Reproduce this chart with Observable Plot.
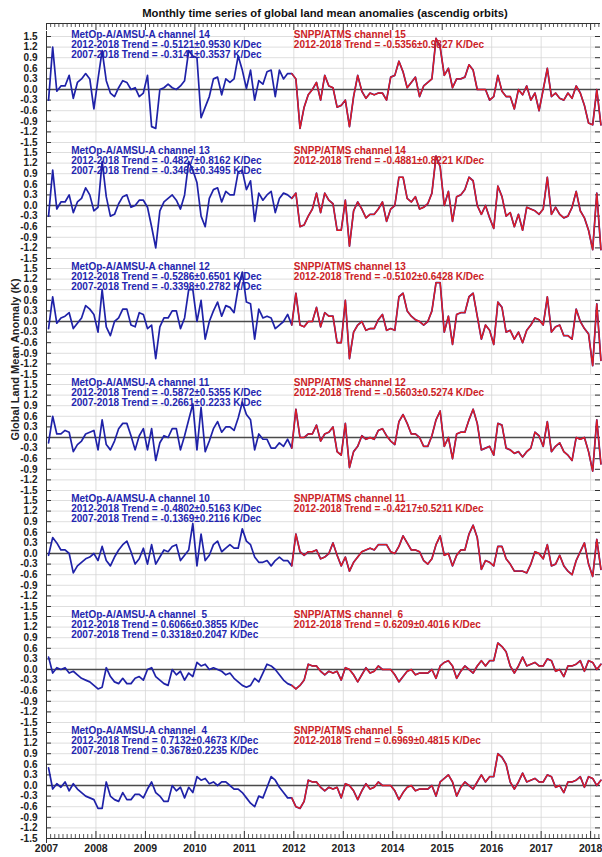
<!DOCTYPE html>
<html>
<head>
<meta charset="utf-8">
<script src="https://cdn.jsdelivr.net/npm/d3@7"></script>
<script src="https://cdn.jsdelivr.net/npm/@observablehq/plot@0.6"></script>
<style>
  body { margin: 0; background: #fff; font-family: Arial, "Liberation Sans", sans-serif; }
  #title { box-sizing: border-box; height: 23px; padding-top: 5px; line-height: 16px; margin-left: 48px;
           text-align: center; font-weight: bold; font-size: 11.25px; color: #111; white-space: nowrap; }
  svg text { white-space: pre; }
</style>
</head>
<body>
<div id="title">Monthly time series of global land mean anomalies (ascendig orbits)</div>
<div id="chart"></div>
<script>
// ---------- tick labels / categories ----------
const YEARS = [2007, 2008, 2009, 2010, 2011, 2012, 2013, 2014, 2015, 2016, 2017, 2018];
const Y_TICKS = [-1.5, -1.2, -0.9, -0.6, -0.3, 0, 0.3, 0.6, 0.9, 1.2, 1.5];
const Y_LABEL = "Global Land Mean Anomaly (K)";

const metopChannels = [14, 13, 12, 11, 10, 5, 4];
const snppChannels  = [15, 14, 13, 12, 11, 6, 5];
const metopTrend2012 = ["-0.5121±0.9530", "-0.4827±0.8162", "-0.5286±0.6501", "-0.5872±0.5355", "-0.4802±0.5163", "0.6066±0.3855", "0.7132±0.4673"];
const metopTrend2007 = ["-0.3141±0.3537", "-0.3466±0.3495", "-0.3398±0.2782", "-0.2661±0.2233", "-0.1369±0.2116", "0.3318±0.2047", "0.3678±0.2235"];
const snppTrend2012  = ["-0.5356±0.9827", "-0.4881±0.8221", "-0.5102±0.6428", "-0.5603±0.5274", "-0.4217±0.5211", "0.6209±0.4016", "0.6969±0.4815"];

// ---------- MetOp-A AMSU-A monthly anomalies, Jan 2007 .. Dec 2011 ----------
const amsuA14 = [-0.3, 1.2, -0.05, 0.1, 0.1, 0.4, -0.25, 0.2, 0.3, 0.45, 0.3, -0.55, 0.3, 1.1, 0.25, -0.1, -0.2, 0.05, 0.25, 0.2, 0.0, 0.05, -0.2, -0.1, 0.4, -1.05, -1.1, 0.0, 0.05, 0.15, 0.05, 0.0, 0.1, 0.25, 1.1, 0.95, 0.9, -0.8, -0.5, -0.2, 0.3, 0.35, -0.15, 0.3, 0.2, 0.3, 0.95, 0.55, 0.03, 0.55, -0.3, 0.25, 0.15, 0.5, 0.55, -0.2, 0.55, 0.3, 0.45, 0.45];
const amsuA13 = [-0.3, 1.0, -0.1, 0.1, 0.1, 0.3, -0.2, 0.1, 0.2, 0.5, 0.3, -0.15, -0.05, 1.25, 0.25, -0.3, -0.25, 0.05, 0.25, 0.3, -0.05, 0.0, 0.15, 0.15, -0.05, -0.6, -1.2, -0.15, 0.1, 0.2, 0.3, 0.15, -0.1, 0.3, 1.25, 1.0, 0.65, -0.3, -0.6, 0.2, 0.45, 0.5, 0.1, 0.4, 0.3, 0.3, 0.95, 1.0, 0.45, 0.7, -0.45, 0.35, 0.15, 0.3, 0.4, -0.2, 0.2, 0.35, 0.3, 0.2];
const amsuA12 = [-0.2, 0.7, -0.05, 0.1, 0.15, 0.25, -0.2, -0.05, 0.1, 0.45, 0.35, 0.2, -0.3, 0.9, -0.15, -0.4, 0.0, 0.1, 0.35, 0.35, -0.1, -0.15, 0.25, 0.2, -0.2, -0.1, -1.05, -0.15, 0.1, 0.1, 0.3, 0.3, -0.2, 0.1, 0.9, 0.9, 0.0, 0.6, -0.5, 0.0, 0.3, 0.55, 0.15, 0.45, 0.4, 0.25, 0.95, 1.4, 0.55, 0.5, -0.5, 0.35, 0.1, 0.15, 0.1, -0.2, -0.1, 0.0, 0.2, -0.1];
const amsuA11 = [-0.15, 0.6, 0.1, 0.1, 0.2, 0.15, -0.4, -0.2, -0.1, 0.1, 0.15, 0.2, -0.35, 0.5, -0.2, -0.35, -0.1, 0.25, 0.4, 0.4, 0.05, -0.35, 0.05, 0.25, -0.35, 0.25, -0.65, -0.15, 0.05, 0.0, 0.25, 0.25, -0.35, 0.05, 0.5, 0.95, -0.35, 0.85, -0.4, -0.1, 0.25, 0.45, 0.15, 0.3, 0.3, 0.2, 0.55, 1.0, 0.65, 0.5, -0.35, 0.1, -0.05, -0.05, -0.3, -0.3, -0.15, -0.25, -0.05, -0.3];
const amsuA10 = [-0.05, 0.45, 0.3, 0.1, 0.1, 0.0, -0.55, -0.35, -0.25, -0.15, -0.1, 0.0, -0.2, 0.2, -0.2, -0.35, -0.1, 0.1, 0.25, 0.35, 0.05, -0.3, -0.15, 0.15, -0.3, 0.25, -0.3, -0.1, 0.1, 0.05, 0.2, 0.25, -0.2, -0.05, 0.1, 0.85, -0.35, 0.55, -0.2, -0.05, 0.25, 0.35, 0.05, 0.15, 0.25, 0.15, 0.15, 0.7, 0.35, 0.25, -0.1, -0.25, -0.25, -0.2, -0.35, -0.2, -0.1, -0.2, -0.2, -0.35];
const amsuA5  = [0.35, -0.1, 0.05, 0.0, 0.05, -0.1, -0.05, -0.15, -0.25, -0.3, -0.35, -0.45, -0.55, -0.5, 0.05, -0.2, -0.35, -0.4, -0.25, -0.4, -0.4, -0.25, -0.2, -0.3, 0.0, 0.05, -0.2, -0.3, -0.4, -0.45, 0.0, -0.15, -0.05, -0.3, -0.1, -0.2, 0.2, 0.1, 0.15, 0.0, 0.05, 0.0, -0.05, -0.15, -0.1, -0.25, -0.35, -0.45, -0.5, -0.45, -0.25, -0.35, -0.1, 0.15, 0.1, 0.0, -0.15, -0.3, -0.4, -0.45];
const amsuA4  = [0.5, -0.1, 0.05, -0.05, 0.1, -0.15, 0.05, -0.1, -0.2, -0.3, -0.35, -0.4, -0.65, -0.65, 0.1, -0.3, -0.4, -0.45, -0.2, -0.4, -0.4, -0.25, -0.25, -0.35, -0.1, 0.1, -0.2, -0.3, -0.45, -0.45, 0.0, -0.15, -0.05, -0.35, -0.05, -0.2, 0.25, 0.15, 0.2, 0.05, 0.1, 0.0, 0.1, 0.1, 0.0, -0.1, -0.1, -0.2, -0.35, -0.5, -0.6, -0.3, -0.35, -0.05, 0.25, 0.15, -0.05, -0.2, -0.35, -0.35];

// ---------- SNPP ATMS monthly anomalies, Dec 2011 .. Mar 2018 (MetOp-A overlaps them) ----------
const atms15 = [0.45, 0.3, -1.1, -0.5, -0.15, 0.0, 0.2, -0.3, 0.4, 0.1, 0.05, -0.5, -0.45, -0.3, -1.05, -0.2, 0.4, -0.05, -0.25, -0.1, -0.15, -0.1, -0.1, -0.3, 0.35, 0.4, 0.8, 0.5, 0.05, 0.2, 0.35, -0.2, 0.1, 0.2, 0.3, 1.45, 1.2, 0.4, 0.6, 0.05, 0.3, 0.3, 0.35, 0.7, 0.55, 0.0, 0.0, 0.0, -0.3, -0.2, 0.4, -0.05, -0.2, -0.2, -0.55, 0.0, -0.15, 0.1, -0.3, -0.1, -0.6, 0.0, 0.6, -0.2, -0.1, -0.25, -0.3, -0.1, -0.25, 0.1, -0.1, -0.45, -0.95, -1.0, 0.0, -1.0];
const atms14 = [0.2, 0.35, -0.6, -0.55, -0.3, -0.1, 0.35, -0.2, 0.35, 0.15, 0.05, -0.7, -0.7, 0.15, -1.15, -0.15, 0.1, -0.1, -0.35, -0.25, -0.25, -0.1, 0.1, -0.45, -0.1, 0.0, 0.8, 0.8, 0.2, 0.1, 0.25, -0.1, -0.05, 0.05, 0.35, 1.4, 1.1, 0.0, 0.4, -0.45, 0.25, 0.3, 0.45, 0.8, 0.7, 0.0, -0.25, 0.0, -0.35, -0.65, 0.55, 0.25, -0.3, -0.2, -0.6, -0.25, -0.7, -0.05, -0.1, -0.15, -0.25, -0.1, 0.8, -0.25, -0.05, -0.25, -0.35, -0.3, -0.05, 0.4, -0.15, -0.35, -0.7, -1.25, 0.35, -1.25];
const atms13 = [-0.1, 0.8, -0.1, -0.15, 0.0, 0.0, 0.4, -0.15, 0.25, 0.15, 0.15, -0.6, -0.6, 0.6, -1.05, -0.3, -0.1, 0.0, -0.25, -0.2, -0.2, 0.05, 0.2, -0.25, -0.2, -0.25, 0.7, 0.8, 0.3, 0.15, 0.05, 0.0, -0.1, 0.0, 0.3, 1.1, 1.1, -0.3, 0.15, -0.65, 0.2, 0.25, 0.25, 0.7, 0.8, 0.15, -0.5, -0.1, -0.25, -0.65, 0.55, 0.4, -0.3, -0.25, -0.5, -0.3, -0.6, -0.25, -0.1, 0.1, 0.05, -0.1, 0.7, -0.3, -0.15, -0.1, -0.4, -0.4, -0.5, 0.35, 0.0, -0.2, -0.35, -1.25, 0.5, -1.1];
const atms12 = [-0.3, 0.8, 0.0, 0.0, 0.1, 0.1, 0.35, -0.1, 0.1, 0.15, 0.3, -0.4, -0.5, 0.4, -0.85, -0.4, -0.25, 0.05, -0.05, 0.0, -0.05, 0.2, 0.25, 0.05, -0.1, -0.2, 0.45, 0.65, 0.4, 0.1, 0.1, 0.0, -0.25, -0.25, 0.05, 0.5, 0.75, -0.25, 0.0, -0.6, 0.1, 0.15, 0.15, 0.5, 0.8, 0.4, -0.35, -0.3, -0.25, -0.5, 0.4, 0.35, -0.3, -0.35, -0.45, -0.4, -0.55, -0.4, -0.3, 0.15, 0.05, -0.25, 0.45, -0.4, -0.25, -0.15, -0.4, -0.5, -0.65, 0.0, -0.05, 0.0, -0.4, -0.95, 0.5, -0.75];
const atms11 = [-0.35, 0.55, 0.05, -0.05, 0.05, 0.05, 0.1, -0.15, -0.1, 0.0, 0.3, -0.05, -0.35, -0.1, -0.5, -0.25, -0.1, 0.05, 0.1, 0.15, 0.1, 0.25, 0.25, 0.25, 0.05, 0.0, 0.2, 0.5, 0.3, 0.1, 0.1, 0.05, -0.2, -0.3, -0.15, 0.25, 0.5, -0.05, 0.0, -0.35, -0.05, 0.1, 0.1, 0.55, 0.8, 0.45, -0.45, -0.2, -0.25, -0.35, 0.2, 0.2, -0.15, -0.3, -0.5, -0.5, -0.5, -0.55, -0.3, 0.05, 0.0, -0.15, 0.25, -0.35, -0.3, -0.05, -0.35, -0.5, -0.6, -0.2, 0.05, 0.3, -0.3, -0.65, 0.4, -0.45];
const atms6  = [-0.45, -0.55, -0.45, -0.3, 0.15, 0.1, 0.1, -0.05, -0.15, -0.05, -0.1, -0.05, -0.3, 0.05, 0.0, -0.15, -0.35, -0.15, 0.05, -0.1, -0.05, 0.1, 0.0, 0.0, 0.0, -0.15, -0.35, -0.2, -0.05, 0.0, -0.15, -0.1, -0.1, -0.1, 0.0, -0.25, 0.1, 0.2, 0.25, 0.1, -0.25, -0.05, 0.1, 0.0, -0.1, 0.1, 0.25, 0.1, 0.25, 0.25, 0.75, 0.65, 0.5, 0.1, -0.1, 0.1, 0.35, 0.1, 0.15, 0.2, 0.1, 0.1, 0.3, 0.25, -0.05, 0.0, -0.2, 0.1, 0.1, 0.15, 0.25, -0.05, 0.25, 0.2, 0.0, 0.15];
const atms5  = [-0.35, -0.6, -0.65, -0.45, 0.15, 0.1, 0.1, -0.05, -0.15, -0.05, -0.1, -0.05, -0.35, 0.05, 0.0, -0.15, -0.4, -0.15, 0.05, -0.1, -0.05, 0.1, 0.0, 0.0, 0.0, -0.15, -0.4, -0.2, -0.05, 0.0, -0.15, -0.1, -0.1, -0.1, 0.0, -0.3, 0.1, 0.2, 0.3, 0.1, -0.3, -0.05, 0.1, 0.0, -0.1, 0.1, 0.3, 0.1, 0.25, 0.25, 0.9, 0.8, 0.6, 0.1, -0.1, 0.1, 0.35, 0.1, 0.15, 0.2, 0.1, 0.1, 0.3, 0.25, -0.05, 0.0, -0.2, 0.1, 0.1, 0.15, 0.25, -0.05, 0.25, 0.2, 0.0, 0.15];

const metopSeries = [amsuA14, amsuA13, amsuA12, amsuA11, amsuA10, amsuA5, amsuA4];
const snppSeries  = [atms15, atms14, atms13, atms12, atms11, atms6, atms5];

// ---------- build tables ----------
const SNPP_START = 59;                       // index of Dec 2011
const monthTime = m => 2007 + (m + 0.5) / 12;
const PANELS = d3.range(metopSeries.length);
const LAST = PANELS.length - 1;

const blueRows = [], redRows = [];
PANELS.forEach(p => {
  metopSeries[p].forEach((v, m) => blueRows.push({panel: p, t: monthTime(m), v}));
  snppSeries[p].slice(1).forEach((v, k) => blueRows.push({panel: p, t: monthTime(SNPP_START + 1 + k), v}));
  snppSeries[p].forEach((v, k) => redRows.push({panel: p, t: monthTime(SNPP_START + k), v}));
});

const fmtCh = c => String(c).padStart(2, " ");
const blueText = PANELS.map(p => ({panel: p, text:
  `MetOp-A/AMSU-A channel ${fmtCh(metopChannels[p])}\n2012-2018 Trend = ${metopTrend2012[p]} K/Dec\n2007-2018 Trend = ${metopTrend2007[p]} K/Dec`}));
const redText = PANELS.map(p => ({panel: p, text:
  `SNPP/ATMS channel ${fmtCh(snppChannels[p])}\n2012-2018 Trend = ${snppTrend2012[p]} K/Dec`}));

const X_DOMAIN = [2007, 2018.2];
const minorMonths = d3.range(1, 135).filter(m => m % 12 !== 0).map(m => 2007 + m / 12);

const BLUE = "#1f22a8", RED = "#e01c22";
const AXIS = "#333";
const GRID = "#d6d6d6";

const chart = Plot.plot({
  width: 602, height: 834,
  marginLeft: 46, marginRight: 2, marginTop: 13, marginBottom: 19,
  style: {fontFamily: "Arial, 'Liberation Sans', sans-serif", fontSize: "10px", fontWeight: "bold", color: "#1a1a1a", background: "white", overflow: "visible"},
  x: {domain: X_DOMAIN},
  y: {domain: [-1.5, 1.5]},
  fy: {domain: PANELS, paddingInner: 10 / 116, paddingOuter: 0, round: false, axis: null},
  marks: [
    Plot.gridY(Y_TICKS, {stroke: GRID, strokeOpacity: 1, strokeWidth: 0.8}),
    Plot.gridX(YEARS, {stroke: GRID, strokeOpacity: 1, strokeWidth: 0.8}),
    Plot.ruleY([0], {stroke: "#4a4a4a", strokeWidth: 1.3}),
    Plot.ruleX([X_DOMAIN[0]], {stroke: AXIS, insetTop: -5, insetBottom: -5}),
    Plot.tickY(Y_TICKS, {y: d => d, insetRight: 549, stroke: AXIS}),
    Plot.tickY(Y_TICKS, {y: d => d, insetLeft: 549, stroke: AXIS}),
    // top frame of the first panel
    Plot.ruleY([1.5], {fy: () => 0, dy: -13, stroke: AXIS}),
    Plot.tickX(minorMonths, {x: d => d, fy: () => 0, insetBottom: 102, dy: -13, stroke: AXIS, strokeWidth: 0.8}),
    Plot.tickX(YEARS, {x: d => d, fy: () => 0, insetBottom: 99, dy: -13, stroke: AXIS}),
    // bottom frame of the last panel
    Plot.ruleY([-1.5], {fy: () => LAST, stroke: AXIS}),
    Plot.tickX(minorMonths, {x: d => d, fy: () => LAST, insetTop: 102, stroke: AXIS, strokeWidth: 0.8}),
    Plot.tickX(YEARS, {x: d => d, fy: () => LAST, insetTop: 99, stroke: AXIS}),
    Plot.axisY(Y_TICKS, {anchor: "left", tickSize: 0, tickPadding: 9, tickFormat: d => d.toFixed(1), label: null, fontSize: 10, fontWeight: "bold", fill: "#222"}),
    Plot.axisX(YEARS, {anchor: "bottom", tickSize: 0, tickPadding: 6, tickFormat: d => String(d), label: null, fontSize: 10.5, fontWeight: "bold", fill: "#222"}),
    Plot.text([Y_LABEL], {text: d => d, fy: () => 3, frameAnchor: "left", dx: -31, dy: 3, rotate: -90, fontSize: 11, fontWeight: "bold", fill: "#222"}),
    Plot.text(blueText, {x: () => 2007.5, fy: "panel", text: "text", frameAnchor: "top", lineAnchor: "top", textAnchor: "start", dy: -5.5, lineHeight: 1.0, fontSize: 10, fontWeight: "bold", fill: "#2426b0"}),
    Plot.text(redText, {x: () => 2012, fy: "panel", text: "text", frameAnchor: "top", lineAnchor: "top", textAnchor: "start", dy: -5.5, lineHeight: 1.0, fontSize: 10, fontWeight: "bold", fill: "#cc2226"}),
    Plot.line(blueRows, {x: "t", y: "v", fy: "panel", stroke: BLUE, strokeWidth: 1.7}),
    Plot.line(redRows, {x: "t", y: "v", fy: "panel", stroke: RED, strokeWidth: 1.4})
  ]
});
document.getElementById("chart").appendChild(chart);
</script>
</body>
</html>
